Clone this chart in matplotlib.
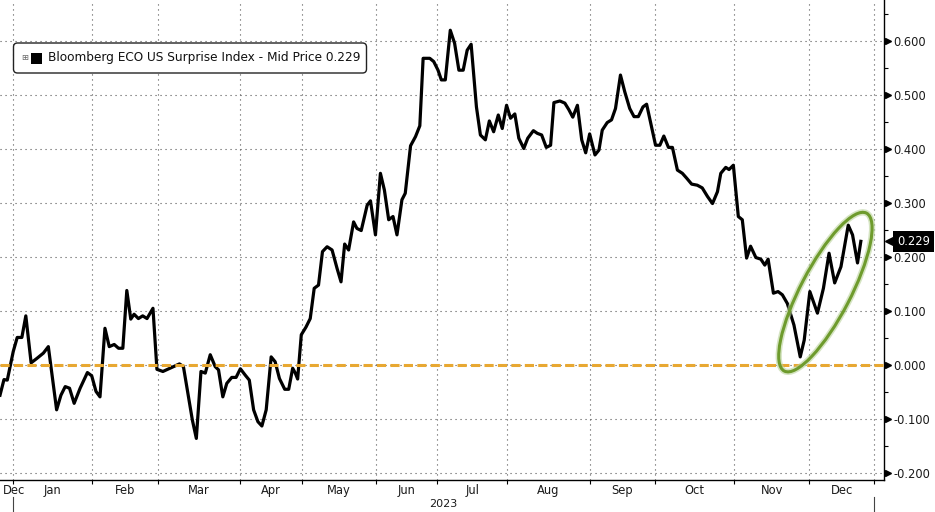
import matplotlib
matplotlib.use('Agg')
import matplotlib.pyplot as plt
import matplotlib.transforms as mtransforms
from matplotlib.patches import Ellipse, FancyBboxPatch, Rectangle
import numpy as np

plt.rcParams['font.family'] = 'DejaVu Sans'

# x = trading session since chart start, y = index level
session = [0.0, 1.2, 2.2, 4.0, 5.2, 6.6, 7.8, 9.4, 11.1, 13.1, 14.6, 17.1, 18.4, 19.7, 21.0, 22.4,
           24.2, 26.4, 27.7, 29.0, 30.2, 31.7, 33.0, 34.5, 35.8, 37.1, 38.3, 39.5, 40.5, 41.8, 43.1,
           44.4, 46.2, 47.4, 49.2, 52.4, 54.2, 55.4, 58.1, 59.3, 60.7, 62.0, 63.5, 65.0, 66.0, 67.3,
           68.5, 70.0, 71.3, 72.6, 74.1, 75.3, 76.6, 77.9, 79.1, 80.4, 81.9, 83.1, 84.4, 86.0, 87.2,
           88.4, 89.2, 89.9, 91.0, 92.4, 93.7, 94.9, 96.2, 97.4, 98.8, 100.3, 101.8, 103.0, 104.1,
           105.3, 106.8, 107.8, 109.1, 110.9, 111.9, 113.4, 114.9, 116.1, 117.4, 118.7, 119.9, 121.4,
           122.4, 124.0, 125.5, 126.8, 127.8, 129.8, 131.0, 132.3, 133.3, 134.5, 136.0, 137.3, 138.6,
           139.9, 141.1, 142.3, 143.9, 145.1, 146.6, 147.8, 149.1, 150.5, 151.7, 153.0, 154.2, 155.5,
           156.7, 158.2, 159.4, 161.1, 162.3, 163.6, 165.0, 166.3, 167.3, 169.1, 170.6, 171.8, 173.0,
           174.4, 175.7, 176.9, 178.1, 179.7, 180.9, 181.9, 183.4, 184.7, 185.9, 187.4, 188.7, 190.2,
           191.5, 192.8, 194.2, 195.3, 196.7, 198.0, 199.3, 200.5, 201.9, 203.1, 204.6, 206.1, 207.4,
           208.9, 210.6, 212.1, 213.7, 215.2, 216.7, 217.7, 219.2, 220.2, 221.5, 223.0, 224.2, 225.5,
           226.7, 228.3, 229.8, 231.0, 232.0, 233.6, 235.0, 236.3, 237.8, 239.8, 241.7, 242.9, 244.6,
           246.9, 248.7, 250.4, 252.1, 254.0, 256.2, 257.5, 259.0, 260.0]
value = [-0.056, -0.027, -0.028, 0.025, 0.051, 0.051, 0.091, 0.004, 0.012, 0.022, 0.034, -0.083,
         -0.056, -0.040, -0.043, -0.071, -0.043, -0.014, -0.020, -0.049, -0.059, 0.068, 0.034,
         0.038, 0.031, 0.031, 0.138, 0.085, 0.094, 0.086, 0.091, 0.086, 0.105, -0.008, -0.012,
         -0.003, 0.002, -0.003, -0.102, -0.136, -0.012, -0.015, 0.019, -0.003, -0.009, -0.059,
         -0.034, -0.023, -0.023, -0.007, -0.019, -0.028, -0.083, -0.105, -0.113, -0.083, 0.015,
         0.006, -0.025, -0.045, -0.045, -0.006, -0.015, -0.026, 0.056, 0.070, 0.086, 0.142, 0.148,
         0.210, 0.219, 0.213, 0.179, 0.154, 0.224, 0.213, 0.265, 0.253, 0.249, 0.296, 0.304, 0.241,
         0.355, 0.324, 0.269, 0.275, 0.241, 0.306, 0.318, 0.406, 0.423, 0.443, 0.568, 0.568, 0.562,
         0.546, 0.528, 0.528, 0.620, 0.596, 0.546, 0.546, 0.583, 0.594, 0.478, 0.426, 0.417, 0.452,
         0.432, 0.463, 0.438, 0.481, 0.457, 0.465, 0.420, 0.401, 0.420, 0.434, 0.429, 0.426, 0.403,
         0.407, 0.486, 0.489, 0.485, 0.473, 0.459, 0.481, 0.417, 0.393, 0.428, 0.389, 0.398, 0.435,
         0.449, 0.454, 0.475, 0.537, 0.506, 0.475, 0.460, 0.460, 0.478, 0.483, 0.444, 0.407, 0.407,
         0.424, 0.403, 0.403, 0.361, 0.355, 0.346, 0.335, 0.333, 0.328, 0.312, 0.299, 0.321, 0.355,
         0.366, 0.362, 0.370, 0.275, 0.269, 0.198, 0.220, 0.199, 0.196, 0.185, 0.196, 0.133, 0.136,
         0.130, 0.114, 0.074, 0.015, 0.046, 0.136, 0.096, 0.142, 0.207, 0.152, 0.182, 0.259, 0.241,
         0.189, 0.229]

# session where each month starts (Jan 2023 .. Jan 2024)
month_starts = [4.0, 27.9, 47.6, 72.6, 91.2, 113.6, 132.0, 153.2, 178.1, 197.8, 221.7, 244.4, 264.0]
month_names = ['Jan', 'Feb', 'Mar', 'Apr', 'May', 'Jun', 'Jul', 'Aug', 'Sep', 'Oct', 'Nov', 'Dec']
year_label = '2023'
last_value = 0.229
legend_label = 'Bloomberg ECO US Surprise Index - Mid Price 0.229'
y_ticks = np.round(np.arange(-0.2, 0.61, 0.1), 1)

W, H = 935, 512
fig = plt.figure(figsize=(W / 100, H / 100), dpi=100)
ax = fig.add_axes([0, 32 / H, 884 / W, 480 / H])

# grid
grid_kw = dict(color='#555555', linestyle=(0, (1, 3.5)), linewidth=0.8, zorder=0)
for m in month_starts:
    ax.axvline(m, **grid_kw)
for t in y_ticks:
    ax.axhline(t, **grid_kw)

# series
ax.plot(session, value, color='black', lw=2.3, zorder=3)
ax.axhline(0, color='#e8a832', lw=2.2, dashes=(3, 1.4), zorder=4)

# green ellipse around the latest rebound (sized in pixels)
ell_tr = mtransforms.ScaledTranslation(249.3, 0.135, ax.transData)
ax.add_patch(Ellipse((0, 0), 178, 50, angle=62.5, transform=ell_tr, fill=False,
                     ec='#b9d29a', lw=4.5, alpha=0.6, zorder=5, clip_on=False))
ax.add_patch(Ellipse((0, 0), 178, 50, angle=62.5, transform=ell_tr, fill=False,
                     ec='#6e9b2d', lw=2.2, zorder=6, clip_on=False))
ax.set_xlim(0, 267)
ax.set_ylim(-0.213, 0.676)

# spines / axes
for s in ['left', 'top']:
    ax.spines[s].set_visible(False)
ax.spines['right'].set_linewidth(1.0)
ax.spines['bottom'].set_linewidth(1.0)

ax.yaxis.tick_right()
ax.set_yticks(y_ticks)
ax.set_yticklabels([f'{t:.3f}' for t in y_ticks], fontsize=8.3, color='#1a1a1a')
ax.tick_params(axis='y', which='major', length=0, pad=6.5)
ax.set_yticks(np.round(np.arange(-0.15, 0.66, 0.1), 2), minor=True)
ax.tick_params(axis='y', which='minor', length=3, width=0.8, direction='out', right=True)

ax.set_xticks(month_starts)
ax.set_xticklabels([])
ax.tick_params(axis='x', which='major', length=3, width=0.8, direction='out')

# triangle markers on the major y ticks
tri_tr = mtransforms.offset_copy(mtransforms.blended_transform_factory(ax.transAxes, ax.transData),
                                 fig=fig, x=3.5, y=0, units='dots')
ax.plot(np.ones(len(y_ticks)), y_ticks, ls='none', marker='>', ms=5, color='black',
        transform=tri_tr, clip_on=False)

# month labels
lab_tr = mtransforms.blended_transform_factory(ax.transData, ax.transAxes)
mids = [(a + b) / 2 for a, b in zip(month_starts[:-1], month_starts[1:])]
for name, m in zip(month_names, mids):
    ax.text(m, -0.021, name, transform=lab_tr, ha='center', va='center', fontsize=8.3, color='#1a1a1a')
ax.text(0.8, -0.021, 'Dec', transform=lab_tr, ha='left', va='center', fontsize=8.3, color='#1a1a1a')
ax.text((month_starts[0] + month_starts[-1]) / 2, -0.0495, year_label, transform=lab_tr,
        ha='center', va='center', fontsize=8.0, color='#1a1a1a')
for m in (month_starts[0], month_starts[-1]):
    ax.plot([m, m], [-0.035, -0.07], transform=lab_tr, color='#444444', lw=0.8, clip_on=False)

# last value tag
tag_tr = mtransforms.blended_transform_factory(ax.transAxes, ax.transData)
ax.plot([1.0], [last_value], marker='<', ms=9, color='black', ls='none',
        transform=mtransforms.offset_copy(tag_tr, fig=fig, x=7, y=0, units='dots'), clip_on=False)
ax.text(1.0, last_value, f'{last_value:.3f}', color='white', fontsize=8.3, ha='left', va='center',
        transform=mtransforms.offset_copy(tag_tr, fig=fig, x=13, y=0, units='dots'),
        bbox=dict(boxstyle='square,pad=0.35', fc='black', ec='none'), clip_on=False)

# legend box (pixel coordinates)
px = mtransforms.IdentityTransform()
fig.add_artist(FancyBboxPatch((13.5, H - 73), 353, 30, boxstyle='round,pad=0,rounding_size=4',
                              transform=px, fc='white', ec='#222222', lw=1.0))
fig.text(25, H - 58, '\u229e', transform=px, ha='center', va='center', fontsize=6, color='#666666')
fig.add_artist(Rectangle((31, H - 64), 11, 11, transform=px, fc='black', ec='none'))
fig.text(47.5, H - 58, legend_label, transform=px, ha='left', va='center', fontsize=8.75,
         color='#111111')

fig.savefig('out.png', dpi=100)
